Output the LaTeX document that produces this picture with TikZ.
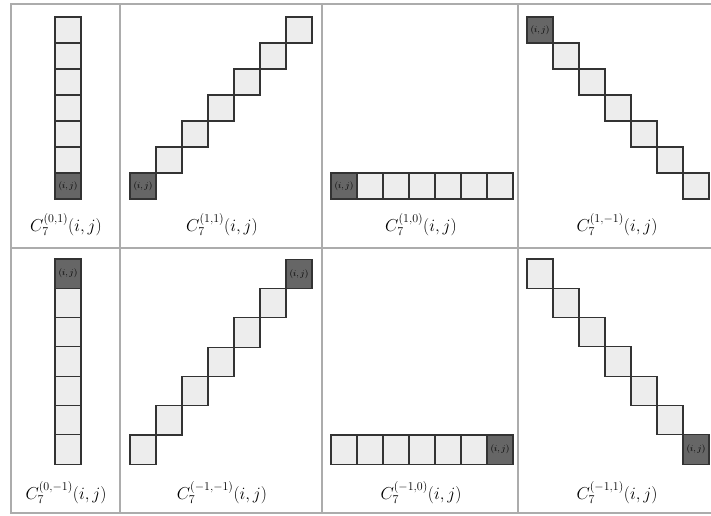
\documentclass[tikz,border=0pt]{standalone}
\usepackage{fontspec}
\setmainfont{Liberation Serif}
\begin{document}
\begin{tikzpicture}[x=1pt,y=-1pt,
  lsq/.style={draw=black!80,line width=1.1pt,fill=gray!14,minimum width=26pt,minimum height=#1,inner sep=0pt,outer sep=0pt,anchor=north west},
  lsq/.default=26pt,
  dsq/.style={lsq=#1,fill=black!60,text=black,font=\fontsize{9}{9}\selectfont},
  dsq/.default=26pt,
  lbl/.style={font=\fontsize{17}{20}\selectfont,inner sep=0pt},
  frame/.style={draw=gray!65,line width=1.4pt}]
\useasboundingbox (0,0) rectangle (711,515);
% frame
\draw[frame] (11,4) rectangle (725,513);
\draw[frame] (120,4) -- (120,513);
\draw[frame] (322,4) -- (322,513);
\draw[frame] (518,4) -- (518,513);
\draw[frame] (11,248) -- (725,248);
% ---------- top row ----------
% cell 1: vertical column, dark at bottom
\foreach \k in {0,...,5} \node[lsq] (ta\k) at (55,{17+26*\k}) {};
\node[dsq] (ta6) at (55,173) {$(i,j)$};
\node[lbl] (la) at (66,225) {$C_7^{(0,1)}(i,j)$};
% cell 2: staircase up-right, dark at bottom left
\node[dsq] (tb0) at (130,173) {$(i,j)$};
\foreach \k in {1,...,6} \node[lsq] (tb\k) at ({130+26*\k},{173-26*\k}) {};
\node[lbl] (lb) at (222,225) {$C_7^{(1,1)}(i,j)$};
% cell 3: horizontal row, dark at left
\node[dsq] (tc0) at (331,173) {$(i,j)$};
\foreach \k in {1,...,6} \node[lsq] (tc\k) at ({331+26*\k},173) {};
\node[lbl] (lc) at (421,225) {$C_7^{(1,0)}(i,j)$};
% cell 4: staircase down-right, dark at top left
\node[dsq] (td0) at (527,17) {$(i,j)$};
\foreach \k in {1,...,6} \node[lsq] (td\k) at ({527+26*\k},{17+26*\k}) {};
\node[lbl] (ld) at (617,225) {$C_7^{(1,-1)}(i,j)$};
% ---------- bottom row ----------
% cell 1: vertical column, dark at top
\node[dsq=29.3pt] (ba0) at (55,259) {$(i,j)$};
\foreach \k in {1,...,6} \node[lsq=29.3pt] (ba\k) at (55,{259+29.3*\k}) {};
\node[lbl] (lba) at (66,493) {$C_7^{(0,-1)}(i,j)$};
% cell 2: staircase up-right, dark at top right
\foreach \k in {0,...,5} \node[lsq=29.3pt] (bb\k) at ({130+26*\k},{435-29.3*\k}) {};
\node[dsq=29.3pt] (bb6) at (286,{435-29.3*6}) {$(i,j)$};
\node[lbl] (lbb) at (222,493) {$C_7^{(-1,-1)}(i,j)$};
% cell 3: horizontal row, dark at right
\foreach \k in {0,...,5} \node[lsq=29.3pt] (bc\k) at ({331+26*\k},435) {};
\node[dsq=29.3pt] (bc6) at (487,435) {$(i,j)$};
\node[lbl] (lbc) at (421,493) {$C_7^{(-1,0)}(i,j)$};
% cell 4: staircase down-right, dark at bottom right
\foreach \k in {0,...,5} \node[lsq=29.3pt] (bd\k) at ({527+26*\k},{259+29.3*\k}) {};
\node[dsq=29.3pt] (bd6) at (683,{259+29.3*6}) {$(i,j)$};
\node[lbl] (lbd) at (617,493) {$C_7^{(-1,1)}(i,j)$};
\end{tikzpicture}
\end{document}
